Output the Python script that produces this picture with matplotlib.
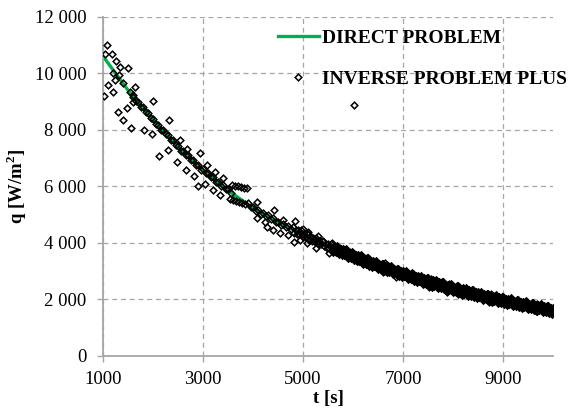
import numpy as np
import matplotlib
matplotlib.use("Agg")
import matplotlib.pyplot as plt
from matplotlib.ticker import FuncFormatter
from matplotlib.lines import Line2D

# ---------------- data ----------------
# direct problem
t_direct = [1000, 1500, 2000, 2500, 3000, 3500, 4000, 4500, 5000, 5500,
            6000, 6500, 7000, 7500, 8000, 8500, 9000, 9500, 10000]
q_direct = [10600, 9400, 8340, 7400, 6560, 5850, 5230, 4730, 4290, 3890,
            3520, 3190, 2890, 2620, 2375, 2150, 1950, 1770, 1600]

# inverse problem: scattered points (large deviations)
t_inv_scatter = [1073, 1040, 1173, 1260, 1340, 1507, 1200, 1327, 1240, 1393,
                 1107, 1207, 1027, 1540, 1640, 1590, 1607, 2007, 1307, 1473,
                 1407, 1560, 1820, 1987, 2327, 2127, 2307, 2540, 2487, 2687,
                 2660, 2820, 2907, 2940, 3073, 3240, 3393, 3040, 3207, 3340,
                 3570, 3630, 3690, 3750, 3810, 3870,
                 3540, 3600, 3660, 3720, 3780, 3840,
                 4073, 4087, 4240, 4273, 4407, 4420, 4540, 4600, 4700, 4840,
                 4820, 4993, 4940, 5107, 5087, 5307, 5260, 5573, 5527, 6640,
                 6607, 6907, 6867, 7553, 7527, 7927, 7887, 8127, 8107, 8753,
                 8727, 9673, 9660, 6020]
q_inv_scatter = [10990, 10670, 10690, 10420, 10220, 10200, 10000, 9950, 9770, 9650,
                 9570, 9335, 9190, 9335, 9510, 9160, 8980, 9020, 8630, 8780,
                 8360, 8075, 7980, 7840, 8335, 7070, 7270, 7630, 6850, 7330,
                 6565, 6365, 6000, 7180, 6740, 6505, 6290, 6095, 5860, 5700,
                 6030, 6010, 5990, 5970, 5950, 5930,
                 5530, 5500, 5470, 5440, 5410, 5380,
                 5445, 4860, 4740, 4540, 4445, 5170, 4350, 4820, 4270, 4760,
                 4030, 4500, 4090, 4385, 4000, 4230, 3830, 4000, 3640, 3270,
                 2960, 3055, 2770, 2700, 2440, 2535, 2265, 2440, 2180, 2180,
                 1910, 1830, 1590, 8870]

# inverse problem: points hugging the curve (1600 - 4750 s)
t_inv_near = [1600, 1650, 1700, 1750, 1800, 1850, 1900, 1950, 2000, 2050,
              2100, 2150, 2200, 2250, 2300, 2350, 2400, 2450, 2500, 2550,
              2600, 2650, 2700, 2750, 2800, 2850, 2900, 2950, 3000, 3050,
              3100, 3150, 3200, 3250, 3300, 3350, 3400, 3450, 3500, 3550,
              3900, 3950, 4000, 4050, 4100, 4150, 4200, 4250, 4300, 4350,
              4400, 4450, 4500, 4550, 4600, 4650, 4700, 4750]
q_inv_near = [9227, 9028, 8980, 8793, 8787, 8623, 8600, 8409, 8388, 8199,
              8160, 7983, 7987, 7833, 7819, 7637, 7625, 7445, 7416, 7248,
              7260, 7114, 7109, 6935, 6932, 6760, 6739, 6579, 6600, 6466,
              6472, 6309, 6317, 6156, 6145, 5996, 6027, 5898, 5910, 5755,
              5408, 5259, 5280, 5138, 5146, 5015, 5064, 4954, 4984, 4845,
              4876, 4738, 4750, 4623, 4677, 4572, 4607, 4475]

# inverse problem: dense band, one value every 25 s from 4800 s to 10000 s
t_inv_band = np.arange(4800, 10001, 25)
q_inv_band = [
    4552, 4360, 4448, 4296, 4435, 4314, 4433, 4292,
    4200, 4319, 4188, 4307, 4296, 4106, 4195, 4045,
    4184, 4064, 4184, 4044, 3954, 4074, 3944, 4064,
    4055, 3866, 3957, 3808, 3948, 3829, 3950, 3811,
    3722, 3844, 3715, 3837, 3828, 3640, 3732, 3584,
    3725, 3607, 3729, 3591, 3503, 3626, 3498, 3621,
    3613, 3426, 3519, 3372, 3514, 3397, 3520, 3383,
    3297, 3421, 3294, 3418, 3411, 3225, 3319, 3173,
    3316, 3200, 3324, 3188, 3103, 3227, 3101, 3225,
    3220, 3035, 3130, 2985, 3129, 3014, 3139, 3004,
    2920, 3045, 2920, 3045, 3041, 2857, 2952, 2808,
    2953, 2839, 2965, 2831, 2747, 2873, 2749, 2875,
    2872, 2688, 2784, 2640, 2787, 2674, 2801, 2668,
    2584, 2711, 2588, 2715, 2712, 2529, 2626, 2483,
    2631, 2518, 2646, 2513, 2431, 2558, 2436, 2563,
    2561, 2379, 2477, 2335, 2483, 2371, 2499, 2367,
    2286, 2414, 2293, 2421, 2420, 2238, 2337, 2195,
    2344, 2233, 2362, 2231, 2150, 2279, 2158, 2287,
    2286, 2105, 2204, 2063, 2213, 2102, 2232, 2101,
    2021, 2151, 2031, 2161, 2160, 1980, 2080, 1940,
    2090, 1980, 2110, 1980, 1900, 2030, 1910, 2040,
    2041, 1861, 1962, 1822, 1973, 1864, 1995, 1866,
    1786, 1917, 1798, 1929, 1929, 1750, 1851, 1712,
    1863, 1754, 1885, 1756, 1678, 1809, 1691, 1822,
    1824, 1645, 1747, 1608, 1760, 1652, 1784, 1656,
    1577, 1709, 1591, 1723, 1724, 1546, 1648, 1510,
    1662]

x_ticks = [1000, 3000, 5000, 7000, 9000]
y_ticks = [0, 2000, 4000, 6000, 8000, 10000, 12000]
label_direct = "DIRECT PROBLEM"
label_inverse = "INVERSE PROBLEM PLUS"
x_label = "t [s]"
y_label = "q [W/m$^\\mathbf{2}$]"

# ---------------- style ----------------
plt.rcParams['font.family'] = ['Liberation Serif', 'DejaVu Serif']
plt.rcParams['mathtext.fontset'] = 'custom'
plt.rcParams['mathtext.rm'] = 'Liberation Serif'
plt.rcParams['mathtext.bf'] = 'Liberation Serif:bold'

GREEN = '#00B050'
GRAY = '#A6A6A6'
MS = 3.4
MEW = 1.1
MEW_DENSE = 2.4

fig = plt.figure(figsize=(5.69, 4.12), dpi=100)
ax = fig.add_axes([103 / 569, 1 - 355.7 / 412, 450 / 569, (355.7 - 16.7) / 412])

ax.plot(t_direct, q_direct, color=GREEN, lw=2.4, zorder=2, solid_capstyle='butt')

marker_style = dict(linestyle='none', marker='D', markersize=MS,
                    markerfacecolor='none', markeredgecolor='black', zorder=3)

band_t = np.asarray(t_inv_band)
band_q = np.asarray(q_inv_band)
dense = band_t >= 5600

t_light = np.concatenate([t_inv_scatter, t_inv_near, band_t[~dense]])
q_light = np.concatenate([q_inv_scatter, q_inv_near, band_q[~dense]])
ax.plot(band_t[dense], band_q[dense], markeredgewidth=MEW_DENSE, **marker_style)
ax.plot(t_light, q_light, markeredgewidth=MEW, **marker_style)

ax.set_xlim(1000, 10000)
ax.set_ylim(0, 12000)
ax.set_xticks(x_ticks)
ax.set_yticks(y_ticks)
ax.yaxis.set_major_formatter(FuncFormatter(
    lambda v, p: f"{int(v):,}".replace(",", " ")))
ax.xaxis.set_major_formatter(FuncFormatter(lambda v, p: f"{int(v)}"))

ax.grid(True, color=GRAY, linestyle=(0, (4, 3)), linewidth=0.9, zorder=0)
ax.set_axisbelow(True)
for s in ['top', 'right']:
    ax.spines[s].set_visible(False)
for s in ['left', 'bottom']:
    ax.spines[s].set_color(GRAY)
    ax.spines[s].set_linewidth(1.3)

ax.tick_params(axis='both', which='major', direction='out', length=4,
               width=1.0, color=GRAY, labelsize=13.5, labelcolor='black')
ax.tick_params(axis='y', pad=8)
ax.tick_params(axis='x', pad=7)

ax.set_xlabel(x_label, fontsize=13.5, fontweight='bold')
ax.set_ylabel(y_label, fontsize=13.5, fontweight='bold')
ax.xaxis.set_label_coords(0.5, -0.1)
ax.yaxis.set_label_coords(-0.165, 0.5)

handles = [
    Line2D([], [], color=GREEN, lw=2.4),
    Line2D([], [], linestyle='none', marker='D', markersize=MS,
           markerfacecolor='none', markeredgecolor='black', markeredgewidth=MEW),
]
leg = ax.legend(handles, [label_direct, label_inverse], loc='upper left',
                bbox_to_anchor=(0.389, 0.962), frameon=False, borderpad=0,
                borderaxespad=0, handlelength=2.1, handletextpad=0.15,
                labelspacing=1.19, prop={'weight': 'bold', 'size': 14})

fig.savefig("out.png", dpi=100)
